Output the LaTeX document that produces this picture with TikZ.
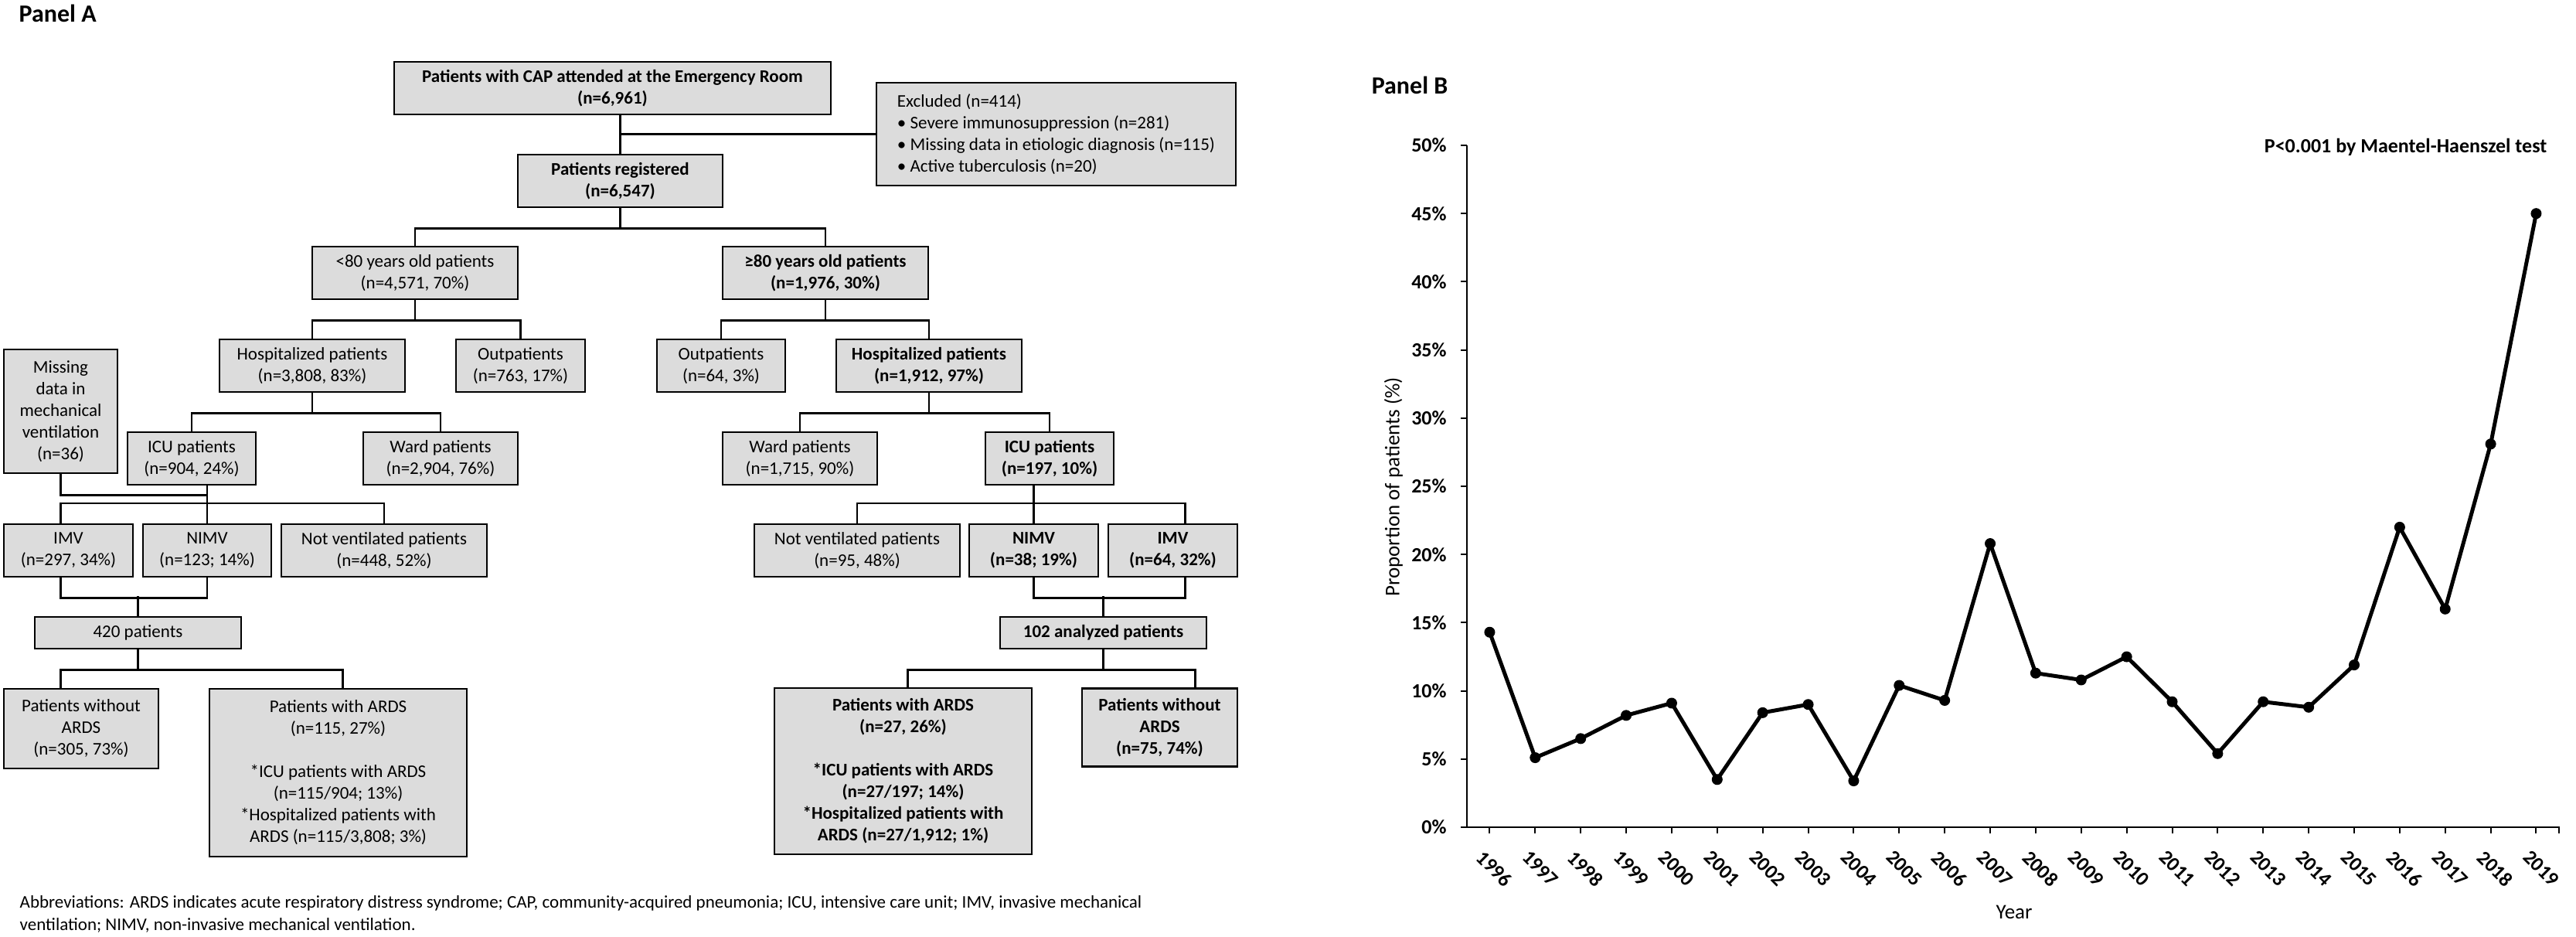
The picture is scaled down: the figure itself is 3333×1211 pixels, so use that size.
\documentclass[tikz,border=0pt]{standalone}
\usepackage{fontspec}
\setmainfont{Carlito}
\usetikzlibrary{positioning}
\definecolor{boxgray}{RGB}{220,220,220}

\begin{document}
\begin{tikzpicture}[x=1pt,y=-1pt,thick,
	box/.style={draw,line width=2.6pt,fill=boxgray,inner sep=2pt,align=center,font=\fontsize{23}{28}\selectfont},
	boxbold/.style={box,font=\fontsize{23}{28}\selectfont\bfseries},
	link/.style={line width=2.4pt},
	axis/.style={line width=2pt},
	trend/.style={line width=5pt,line join=round},
	ticklab/.style={inner sep=0pt,font=\fontsize{26}{30}\selectfont\bfseries},
	yearlab/.style={inner sep=0pt,rotate=-45,anchor=north west,font=\fontsize{26}{30}\selectfont\bfseries}]
	\useasboundingbox (0,0) rectangle (3333,1211);

	% Panel A
	\node[anchor=base west,font=\fontsize{32}{38}\selectfont\bfseries] (pa) at (21,28) {Panel A};
	\node[boxbold,minimum width=565,minimum height=68] (top) at (792.5,114) {Patients with CAP attended at the Emergency Room\\(n=6,961)};
	\node[box,align=left,minimum width=465,minimum height=133] (excl) at (1366.5,173.5) {Excluded (n=414)\\• Severe immunosuppression (n=281)\\• Missing data in etiologic diagnosis (n=115)\\• Active tuberculosis (n=20)};
	\node[boxbold,minimum width=265,minimum height=68] (reg) at (802.5,234) {Patients registered\\(n=6,547)};
	\node[box,minimum width=266,minimum height=68] (young) at (537,353) {<80 years old patients\\(n=4,571, 70\%)};
	\node[boxbold,minimum width=266,minimum height=68] (old) at (1068,353) {≥80 years old patients\\(n=1,976, 30\%)};
	\node[box,minimum width=240,minimum height=68] (hosp1) at (404,473) {Hospitalized patients\\(n=3,808, 83\%)};
	\node[box,minimum width=167,minimum height=68] (out1) at (673.5,473) {Outpatients\\(n=763, 17\%)};
	\node[box,minimum width=166,minimum height=68] (out2) at (933,473) {Outpatients\\(n=64, 3\%)};
	\node[boxbold,minimum width=240,minimum height=68] (hosp2) at (1202,473) {Hospitalized patients\\(n=1,912, 97\%)};
	\node[box,minimum width=147,minimum height=160] (miss) at (78.5,532) {Missing\\data in\\mechanical\\ventilation\\(n=36)};
	\node[box,minimum width=166,minimum height=68] (icu1) at (248,593) {ICU patients\\(n=904, 24\%)};
	\node[box,minimum width=200,minimum height=68] (ward1) at (570,593) {Ward patients\\(n=2,904, 76\%)};
	\node[box,minimum width=200,minimum height=68] (ward2) at (1035,593) {Ward patients\\(n=1,715, 90\%)};
	\node[boxbold,minimum width=166,minimum height=68] (icu2) at (1358,593) {ICU patients\\(n=197, 10\%)};
	\node[box,minimum width=167,minimum height=68] (imv1) at (88.5,712) {IMV\\(n=297, 34\%)};
	\node[box,minimum width=166,minimum height=68] (nimv1) at (268,712) {NIMV\\(n=123; 14\%)};
	\node[box,minimum width=266,minimum height=68] (notv1) at (497,712) {Not ventilated patients\\(n=448, 52\%)};
	\node[box,minimum width=266,minimum height=68] (notv2) at (1109,712) {Not ventilated patients\\(n=95, 48\%)};
	\node[boxbold,minimum width=167,minimum height=68] (nimv2) at (1337.5,712) {NIMV\\(n=38; 19\%)};
	\node[boxbold,minimum width=167,minimum height=68] (imv2) at (1517.5,712) {IMV\\(n=64, 32\%)};
	\node[box,minimum width=267,minimum height=41] (p420) at (178.5,818.5) {420 patients};
	\node[boxbold,minimum width=267,minimum height=41] (p102) at (1427.5,818.5) {102 analyzed patients};
	\node[box,minimum width=200,minimum height=103] (without1) at (105,942.5) {Patients without\\ARDS\\(n=305, 73\%)};
	\node[box,minimum width=333,minimum height=217] (with1) at (437.5,999.5) {Patients with ARDS\\(n=115, 27\%)\\[28pt]*ICU patients with ARDS\\(n=115/904; 13\%)\\*Hospitalized patients with\\ARDS (n=115/3,808; 3\%)};
	\node[boxbold,minimum width=333,minimum height=215] (with2) at (1168.5,997.5) {Patients with ARDS\\(n=27, 26\%)\\[28pt]*ICU patients with ARDS\\(n=27/197; 14\%)\\*Hospitalized patients with\\ARDS (n=27/1,912; 1\%)};
	\node[boxbold,minimum width=201,minimum height=101] (without2) at (1500.5,941) {Patients without\\ARDS\\(n=75, 74\%)};
	\node[anchor=west,align=left,font=\fontsize{23}{29}\selectfont] (abbr) at (22,1182.5) {Abbreviations: ARDS indicates acute respiratory distress syndrome; CAP, community-acquired pneumonia; ICU, intensive care unit; IMV, invasive mechanical\\ventilation; NIMV, non-invasive mechanical ventilation.};

	\draw[link] (top.south -| reg.north) -- (reg.north);
	\draw[link] (excl.west) -- (excl.west -| reg.north);
	\draw[link] (reg.south) -- ++(0,26) -| (young.north);
	\draw[link] (reg.south) ++(0,26) -| (old.north);
	\draw[link] (young.south) -- ++(0,26) -| (hosp1.north);
	\draw[link] (young.south) ++(0,26) -| (out1.north);
	\draw[link] (old.south) -- ++(0,26) -| (out2.north);
	\draw[link] (old.south) ++(0,26) -| (hosp2.north);
	\draw[link] (hosp1.south) -- ++(0,26) -| (icu1.north);
	\draw[link] (hosp1.south) ++(0,26) -| (ward1.north);
	\draw[link] (hosp2.south) -- ++(0,26) -| (ward2.north);
	\draw[link] (hosp2.south) ++(0,26) -| (icu2.north);
	% ventilation
	\draw[link] (icu1.south -| nimv1.north) -- (nimv1.north);
	\draw[link] (miss.south) -- ++(0,27) -| (nimv1.north);
	\draw[link] (imv1.north -| miss.south) -- ++(0,-26) -| (notv1.north);
	\draw[link] (icu2.south -| nimv2.north) -- (nimv2.north);
	\draw[link] (notv2.north) -- ++(0,-26) -| ([xshift=16]imv2.north);
	\draw[link] (imv1.south -| miss.south) -- ++(0,26) -| (nimv1.south);
	\draw[link] (p420.north) -- ++(0,-26);
	\draw[link] (nimv2.south) -- ++(0,26) -| ([xshift=16]imv2.south);
	\draw[link] (p102.north) -- ++(0,-26);
	% ARDS
	\draw[link] (p420.south) -- ++(0,26) -| (without1.north -| miss.south);
	\draw[link] (p420.south) ++(0,26) -| ([xshift=6]with1.north);
	\draw[link] (p102.south) -- ++(0,26) -| ([xshift=6]with2.north);
	\draw[link] (p102.south) ++(0,26) -| ([xshift=46]without2.north);

	% Panel B
	\node[anchor=base west,font=\fontsize{32}{38}\selectfont\bfseries] (pb) at (1771,121) {Panel B};
	\node[anchor=east,font=\fontsize{26}{30}\selectfont\bfseries] (ptest) at (3299,190) {P<0.001 by Maentel-Haenszel test};
	\node[rotate=90,font=\fontsize{27}{32}\selectfont] (ylab) at (1803,630) {Proportion of patients (\%)};
	\node[font=\fontsize{27}{32}\selectfont] (xlab) at (2606,1180) {Year};
	\begin{scope}[shift={(1898,1070)},x=58.87pt,y=17.64pt]
		\draw[axis] (0,0) -- (0,50);
		\draw[axis] ([xshift=-8pt]0,0) -- (24,0) -- ([yshift=-8pt]24,0);
		\foreach \v in {0,5,...,50} {
			\draw[axis] (0,\v) -- ++(-8pt,0pt);
			\node[ticklab,anchor=east] at ([xshift=-26pt]0,\v) {\v\%};
		}
		\foreach \yr [count=\i from 0] in {1996,...,2019} {
			\draw[axis] (\i+0.5,0) -- ++(0pt,-8pt);
			\node[yearlab] at ([shift={(-6pt,-28pt)}]\i+0.5,0) {\yr};
		}
		\draw[trend] plot[mark=*,mark size=6.5pt,mark options={line width=1pt}] coordinates {
			(0.5,14.3) (1.5,5.1) (2.5,6.5) (3.5,8.2) (4.5,9.1) (5.5,3.5)
			(6.5,8.4) (7.5,9.0) (8.5,3.4) (9.5,10.4) (10.5,9.3) (11.5,20.8)
			(12.5,11.3) (13.5,10.8) (14.5,12.5) (15.5,9.2) (16.5,5.4) (17.5,9.2)
			(18.5,8.8) (19.5,11.9) (20.5,22.0) (21.5,16.0) (22.5,28.1) (23.5,45.0)};
	\end{scope}
\end{tikzpicture}
\end{document}
